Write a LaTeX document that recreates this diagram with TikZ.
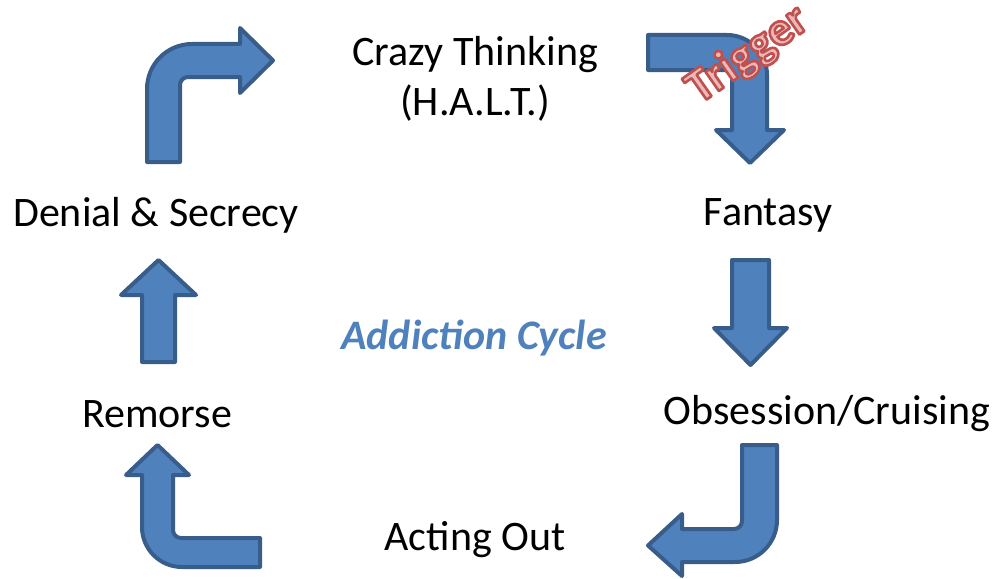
\documentclass[tikz,border=0pt]{standalone}
\usepackage{fontspec}
\setmainfont{Carlito}
\definecolor{arrowfill}{HTML}{4F81BD}
\definecolor{arrowline}{HTML}{385D8A}
\newcommand\outlinedtrigger[1]{\special{pdf:code q 2 Tr 2.6 w 1 j 0.753 0.314 0.302 RG 0.914 0.722 0.718 rg}#1\special{pdf:code Q}}
\tikzset{
  bigarrow/.style={fill=arrowfill, draw=arrowline, line width=4pt, line join=round},
  label/.style={font=\fontsize{42}{50}\selectfont, text=black, inner sep=0pt, align=center},
  title/.style={font=\fontsize{42}{48}\selectfont\bfseries\itshape, text=arrowfill, inner sep=0pt},
  trig/.style={font=\fontsize{48}{52}\selectfont\bfseries, inner sep=0pt, rotate=35}
}
\begin{document}
\begin{tikzpicture}[x=1pt,y=-1pt]
\useasboundingbox (0,0) rectangle (1000,578);
% texts
\node[label] (crazy) at (475,79) {Crazy Thinking\\(H.A.L.T.)};
\node[label] (fantasy) at (768,215) {Fantasy};
\node[label] (obsession) at (827,414) {Obsession/Cruising};
\node[label] (acting) at (475,540) {Acting Out};
\node[label] (remorse) at (157,414) {Remorse};
\node[label] (denial) at (156,215) {Denial \& Secrecy};
\node[title] (cycle) at (474,338) {Addiction Cycle};
% arrow 1: up then right
\path[bigarrow] (147,162) -- (147,89) .. controls (147,64.1) and (167.1,44) .. (192,44)
  -- (240,44) -- (240,28) -- (273,60.5) -- (240,93) -- (240,77) -- (188,77)
  .. controls (183.6,77) and (180,80.6) .. (180,85) -- (180,162) -- cycle;
% arrow 2: right then down
\path[bigarrow] (648,35) -- (727,35) .. controls (749.1,35) and (767,52.9) .. (767,75)
  -- (767,130) -- (784,130) -- (750,163) -- (716,130) -- (732,130) -- (732,78)
  .. controls (732,73.6) and (728.4,70) .. (724,70) -- (648,70) -- cycle;
% arrow 3: down
\path[bigarrow] (732,260) -- (769,260) -- (769,328) -- (787,328) -- (750.5,365)
  -- (714,328) -- (732,328) -- cycle;
% arrow 4: down then left
\path[bigarrow] (742,445) -- (777,445) -- (777,520) .. controls (777,543.2) and (758.2,562) .. (735,562)
  -- (682,562) -- (682,576) -- (648,545.5) -- (682,514) -- (682,529) -- (734,529)
  .. controls (738.4,529) and (742,525.4) .. (742,521) -- cycle;
% arrow 5: left then up
\path[bigarrow] (260,538) -- (181,538) .. controls (176.6,538) and (173,534.4) .. (173,530)
  -- (173,475) -- (189,475) -- (157.5,445) -- (126,475) -- (142,475) -- (142,527)
  .. controls (142,549.1) and (159.9,567) .. (182,567) -- (260,567) -- cycle;
% arrow 6: up
\path[bigarrow] (142,362) -- (175,362) -- (175,295) -- (196,295) -- (158.5,260)
  -- (121,295) -- (142,295) -- cycle;
% trigger
\node[trig] (trigger) at (748,55) {\outlinedtrigger{Trigger}};
\end{tikzpicture}
\end{document}
